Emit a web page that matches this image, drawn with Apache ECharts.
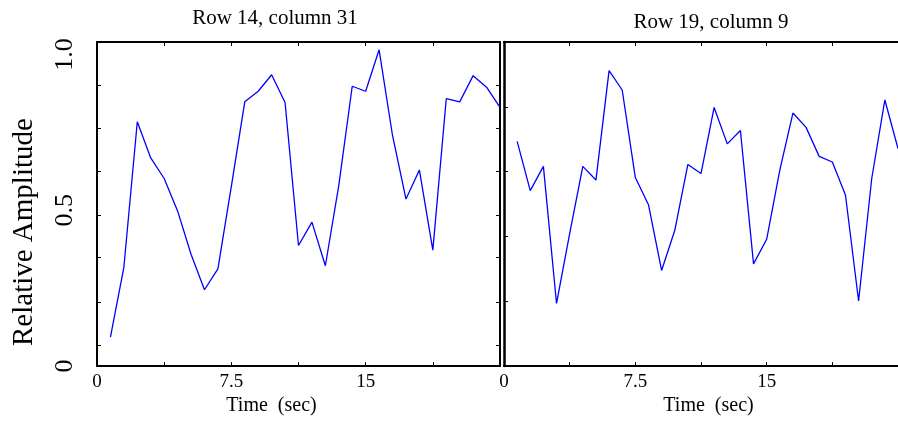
<!DOCTYPE html>
<html>
<head>
<meta charset="utf-8">
<script src="https://cdn.jsdelivr.net/npm/echarts@6/dist/echarts.min.js"></script>
<style>html,body{margin:0;padding:0;background:#fff}#c{width:898px;height:421px}</style>
</head>
<body>
<div id="c"></div>
<script>
// ---- data ----
const timeSec = [0.75,1.5,2.25,3,3.75,4.5,5.25,6,6.75,7.5,8.25,9,9.75,10.5,11.25,12,12.75,13.5,14.25,15,15.75,16.5,17.25,18,18.75,19.5,20.25,21,21.75,22.5];
const row14col31 = [0.093,0.317,0.784,0.668,0.602,0.498,0.359,0.245,0.312,0.577,0.848,0.882,0.935,0.846,0.387,0.462,0.322,0.580,0.898,0.882,1.015,0.740,0.536,0.629,0.372,0.858,0.848,0.932,0.895,0.830];
const row19col9  = [0.721,0.563,0.641,0.201,0.425,0.641,0.597,0.948,0.886,0.605,0.518,0.307,0.435,0.647,0.618,0.830,0.713,0.756,0.328,0.407,0.629,0.812,0.766,0.673,0.655,0.549,0.209,0.602,0.854,0.698];
const panelTitles = ['Row 14, column 31', 'Row 19, column 9'];
const xTickLabels = [0, 7.5, 15];
const yTickLabels = [0, 0.5, 1.0];
const leftYTicks = [0.067,0.206,0.348,0.484,0.625,0.763,0.901];
const xName = 'Time  (sec)';
const yName = 'Relative Amplitude';

const FONT = 'Liberation Serif';
const axisLine = {show:true, onZero:false, lineStyle:{color:'#000', width:2}};
const tick = {show:true, inside:true, length:4, lineStyle:{color:'#000', width:1}};

function xAxes(gi, namePad){
  return [
    {gridIndex:gi, type:'value', position:'bottom', min:0, max:22.5, interval:3.75,
     axisLine, axisTick:tick, splitLine:{show:false},
     axisLabel:{customValues:xTickLabels, color:'#000', fontFamily:FONT, fontSize:19, margin:6},
     name:xName, nameLocation:'middle', nameGap:25,
     nameTextStyle:{color:'#000', fontFamily:FONT, fontSize:20, padding:namePad}},
    {gridIndex:gi, type:'value', position:'top', min:0, max:22.5, interval:3.75,
     axisLine, axisTick:tick, splitLine:{show:false}, axisLabel:{show:false}}
  ];
}

const option = {
  animation:false,
  backgroundColor:'#fff',
  title:[
    {text:panelTitles[0], left:270, top:3, textAlign:'center',
     textStyle:{fontFamily:FONT, fontSize:21, fontWeight:'normal', color:'#000'}},
    {text:panelTitles[1], left:706, top:7, textAlign:'center',
     textStyle:{fontFamily:FONT, fontSize:21, fontWeight:'normal', color:'#000'}}
  ],
  grid:[
    {left:97, top:42, width:403, height:328},
    {left:504, top:42, width:403, height:328}
  ],
  xAxis:[...xAxes(0,[0,54,0,0]), ...xAxes(1,[0,0,0,15])],
  yAxis:[
    {gridIndex:0, type:'value', position:'left', min:0, max:1.04,
     axisLine, splitLine:{show:false},
     axisTick:{...tick, customValues:leftYTicks},
     axisLabel:{customValues:yTickLabels, rotate:90, color:'#000', fontFamily:FONT, fontSize:26, margin:19,
       formatter:v => v===0 ? '0' : v.toFixed(1)},
     name:yName, nameLocation:'middle', nameGap:58,
     nameTextStyle:{color:'#000', fontFamily:FONT, fontSize:29, padding:[0,56,0,0]}},
    {gridIndex:0, type:'value', position:'right', min:0, max:1.04,
     axisLine, splitLine:{show:false},
     axisTick:{...tick, customValues:leftYTicks}, axisLabel:{show:false}},
    {gridIndex:1, type:'value', position:'left', min:0, max:1.04, interval:0.208,
     axisLine:{show:true, onZero:false, lineStyle:{color:'#000', width:2.5}},
     splitLine:{show:false}, axisTick:tick, axisLabel:{show:false}}
  ],
  series:[
    {type:'line', xAxisIndex:0, yAxisIndex:0, data:timeSec.map((t,i)=>[t,row14col31[i]]),
     showSymbol:false, lineStyle:{color:'#0000ff', width:1.3}, itemStyle:{color:'#0000ff'}},
    {type:'line', xAxisIndex:2, yAxisIndex:2, data:timeSec.map((t,i)=>[t,row19col9[i]]),
     showSymbol:false, lineStyle:{color:'#0000ff', width:1.3}, itemStyle:{color:'#0000ff'}}
  ]
};
const chart = echarts.init(document.getElementById('c'), null, {renderer:'canvas'});
chart.setOption(option);
</script>
</body>
</html>
